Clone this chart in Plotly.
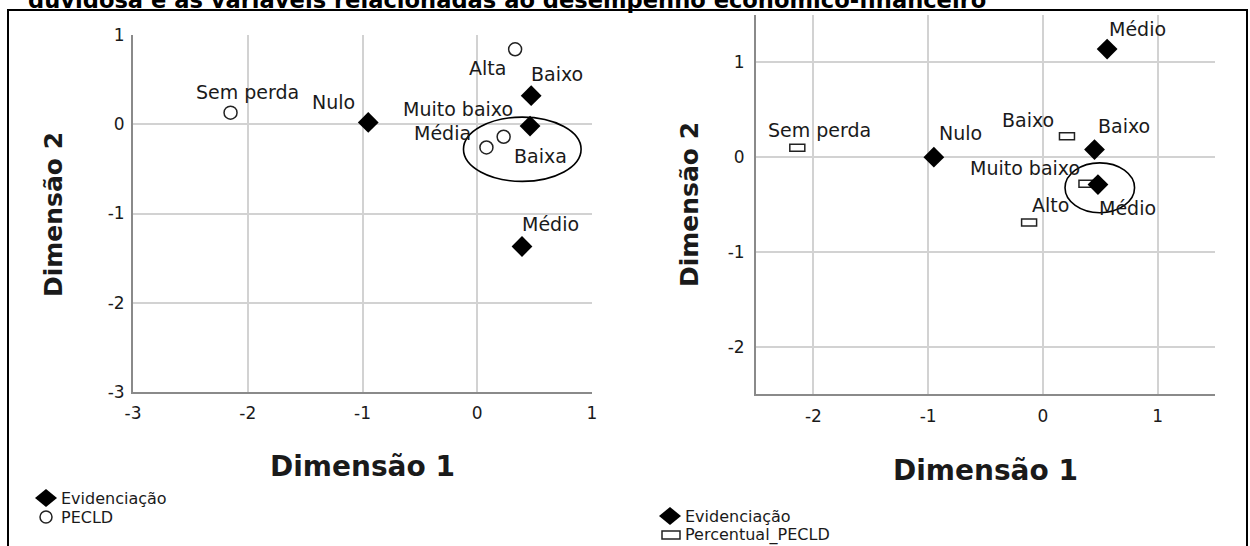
import plotly.graph_objects as go

# the page body margin is removed (post_script below), so the figure fills the 1250x546 window
W, H = 1250, 546

# ---------------- Data: left map (Evidenciação x PECLD) ----------------
evid_left_labels = ["Nulo", "Baixo", "Muito baixo", "Médio"]
evid_left_d1 = [-0.95, 0.47, 0.46, 0.39]
evid_left_d2 = [0.02, 0.32, -0.02, -1.37]

pecld_labels = ["Sem perda", "Alta", "Média", "Baixa"]
pecld_d1 = [-2.15, 0.33, 0.23, 0.08]
pecld_d2 = [0.13, 0.84, -0.14, -0.26]

# ---------------- Data: right map (Evidenciação x Percentual_PECLD) ----------------
evid_right_labels = ["Nulo", "Baixo", "Muito baixo", "Médio"]
evid_right_d1 = [-0.95, 0.45, 0.48, 0.56]
evid_right_d2 = [0.00, 0.08, -0.29, 1.14]

perc_labels = ["Sem perda", "Baixo", "Médio", "Alto"]
perc_d1 = [-2.14, 0.21, 0.38, -0.12]
perc_d2 = [0.10, 0.22, -0.28, -0.69]

left_ticks = [-3, -2, -1, 0, 1]
left_ticktext = ["-3", "-2", "-1", "0", "1"]
right_ticks = [-2, -1, 0, 1]
right_ticktext = ["-2", "-1", "0", "1"]

title_text = "duvidosa e as variáveis relacionadas ao desempenho econômico-financeiro"

# ---------------- label offsets (pixels, relative to the point) ----------------
evid_left_off = [(-35, 20), (26, 22), (-72, 17), (28, 23)]
pecld_off = [(17, 21), (-28, -19), (-61, 4), (54, -9)]
evid_right_off = [(27, 24), (29, 24), (-73, 17), (30, 20)]
perc_off = [(22, 18), (-39, 16), (41, -24), (21, 18)]

FONT = "DejaVu Sans"
TXT = "#1a1a1a"
GRID = "#d2d2d2"
AXL = "#8a8a8a"


def px(x):
    return x / W


def py(y):
    return 1 - y / H


fig = go.Figure()

# left panel traces
fig.add_trace(go.Scatter(x=pecld_d1, y=pecld_d2, mode="markers", xaxis="x", yaxis="y",
                         marker=dict(symbol="circle", size=13, color="white",
                                     line=dict(color="#222", width=1.5)),
                         showlegend=False, hoverinfo="skip"))
fig.add_trace(go.Scatter(x=evid_left_d1, y=evid_left_d2, mode="markers", xaxis="x", yaxis="y",
                         marker=dict(symbol="diamond", size=16, color="black", line=dict(width=0)),
                         showlegend=False, hoverinfo="skip"))
# right panel traces
fig.add_trace(go.Scatter(x=evid_right_d1, y=evid_right_d2, mode="markers", xaxis="x2", yaxis="y2",
                         marker=dict(symbol="diamond", size=16, color="black", line=dict(width=0)),
                         showlegend=False, hoverinfo="skip"))

shapes = []
# rectangles for Percentual_PECLD (pixel sized, anchored on data)
for xv, yv in zip(perc_d1, perc_d2):
    shapes.append(dict(type="rect", xref="x2", yref="y2", xsizemode="pixel", ysizemode="pixel",
                       xanchor=xv, yanchor=yv, x0=-7.5, x1=7.5, y0=-3.5, y1=3.5,
                       fillcolor="white", line=dict(color="#222", width=1.5), layer="between"))

# highlight ellipses
shapes.append(dict(type="circle", xref="x", yref="y", x0=-0.12, x1=0.905, y0=-0.64, y1=0.08,
                   line=dict(color="black", width=1.6)))
shapes.append(dict(type="circle", xref="x2", yref="y2", x0=0.193, x1=0.799, y0=-0.587, y1=-0.061,
                   line=dict(color="black", width=1.6)))

# frame
shapes.append(dict(type="rect", xref="paper", yref="paper", x0=px(8), x1=px(1247), y0=-0.02, y1=py(10),
                   line=dict(color="black", width=2), fillcolor="rgba(0,0,0,0)"))


# legend glyphs
def diamond_glyph(cx, cy):
    return dict(type="path", xref="paper", yref="paper", xsizemode="pixel", ysizemode="pixel",
                xanchor=px(cx), yanchor=py(cy), path="M -11 0 L 0 9 L 11 0 L 0 -9 Z",
                fillcolor="black", line=dict(width=0))


shapes.append(diamond_glyph(46, 498))
shapes.append(dict(type="circle", xref="paper", yref="paper", xsizemode="pixel", ysizemode="pixel",
                   xanchor=px(46), yanchor=py(517), x0=-6, x1=6, y0=-6, y1=6,
                   fillcolor="white", line=dict(color="#222", width=1.5)))
shapes.append(diamond_glyph(670, 516))
shapes.append(dict(type="rect", xref="paper", yref="paper", xsizemode="pixel", ysizemode="pixel",
                   xanchor=px(671), yanchor=py(535), x0=-9, x1=9, y0=-4, y1=4,
                   fillcolor="white", line=dict(color="#222", width=1.5)))

ann = []


def add_labels(labels, xs, ys, offs, xr, yr):
    for t, xv, yv, (dx, dy) in zip(labels, xs, ys, offs):
        ann.append(dict(text=t, x=xv, y=yv, xref=xr, yref=yr, xshift=dx, yshift=dy,
                        xanchor="center", yanchor="middle",
                        showarrow=False, font=dict(family=FONT, size=19, color=TXT)))


add_labels(pecld_labels, pecld_d1, pecld_d2, pecld_off, "x", "y")
add_labels(evid_left_labels, evid_left_d1, evid_left_d2, evid_left_off, "x", "y")
add_labels(evid_right_labels, evid_right_d1, evid_right_d2, evid_right_off, "x2", "y2")
add_labels(perc_labels, perc_d1, perc_d2, perc_off, "x2", "y2")

# axis titles
for cx, cy in [(362, 466), (985, 470)]:
    ann.append(dict(text="<b>Dimensão 1</b>", x=px(cx), y=py(cy), xref="paper", yref="paper",
                    xanchor="center", yanchor="middle",
                    showarrow=False, font=dict(family=FONT, size=28, color=TXT)))
for cx, cy in [(54, 215), (689, 205)]:
    ann.append(dict(text="<b>Dimensão 2</b>", x=px(cx), y=py(cy), xref="paper", yref="paper",
                    xanchor="center", yanchor="middle",
                    showarrow=False, textangle=-90, font=dict(family=FONT, size=25, color=TXT)))

# legend texts
for t, lx, ly in [("Evidenciação", 59, 498), ("PECLD", 59, 517),
                  ("Evidenciação", 683, 516), ("Percentual_PECLD", 683, 535)]:
    ann.append(dict(text=t, x=px(lx), y=py(ly), xref="paper", yref="paper", xanchor="left",
                    yanchor="middle",
                    showarrow=False, font=dict(family=FONT, size=16, color=TXT)))

# cut-off title at top (as in the reference, only its lower part is visible)
ann.append(dict(text="<b>" + title_text + "</b>", x=px(26), y=py(15), xref="paper", yref="paper",
                xanchor="left", yanchor="bottom", showarrow=False,
                font=dict(family=FONT, size=22.6, color="black")))

axis_common = dict(showgrid=True, gridcolor=GRID, gridwidth=2, zeroline=False, showline=True,
                   linecolor=AXL, linewidth=2, ticks="", tickfont=dict(family=FONT, size=17, color=TXT),
                   fixedrange=True, automargin=False)

fig.update_layout(
    template="none",
    width=W, height=H, margin=dict(l=0, r=0, t=0, b=0, autoexpand=False),
    paper_bgcolor="white", plot_bgcolor="white", showlegend=False,
    xaxis=dict(domain=[px(133), px(592)], range=[-3, 1], tickvals=left_ticks, ticktext=left_ticktext,
               anchor="y", ticklabelstandoff=5, **axis_common),
    yaxis=dict(domain=[py(392), py(35)], range=[-3, 1], tickvals=left_ticks, ticktext=left_ticktext,
               anchor="x", ticklabelstandoff=3, **axis_common),
    xaxis2=dict(domain=[px(756), px(1215)], range=[-2.5, 1.5], tickvals=right_ticks,
                ticktext=right_ticktext, anchor="y2", ticklabelstandoff=6, **axis_common),
    yaxis2=dict(domain=[py(394), py(15)], range=[-2.5, 1.5], tickvals=right_ticks,
                ticktext=right_ticktext, anchor="x2", ticklabelstandoff=6, **axis_common),
    shapes=shapes, annotations=ann,
)

fig.write_html("out.html", config={"displayModeBar": False},
               post_script="document.body.style.margin='0';document.body.style.overflow='hidden';")
